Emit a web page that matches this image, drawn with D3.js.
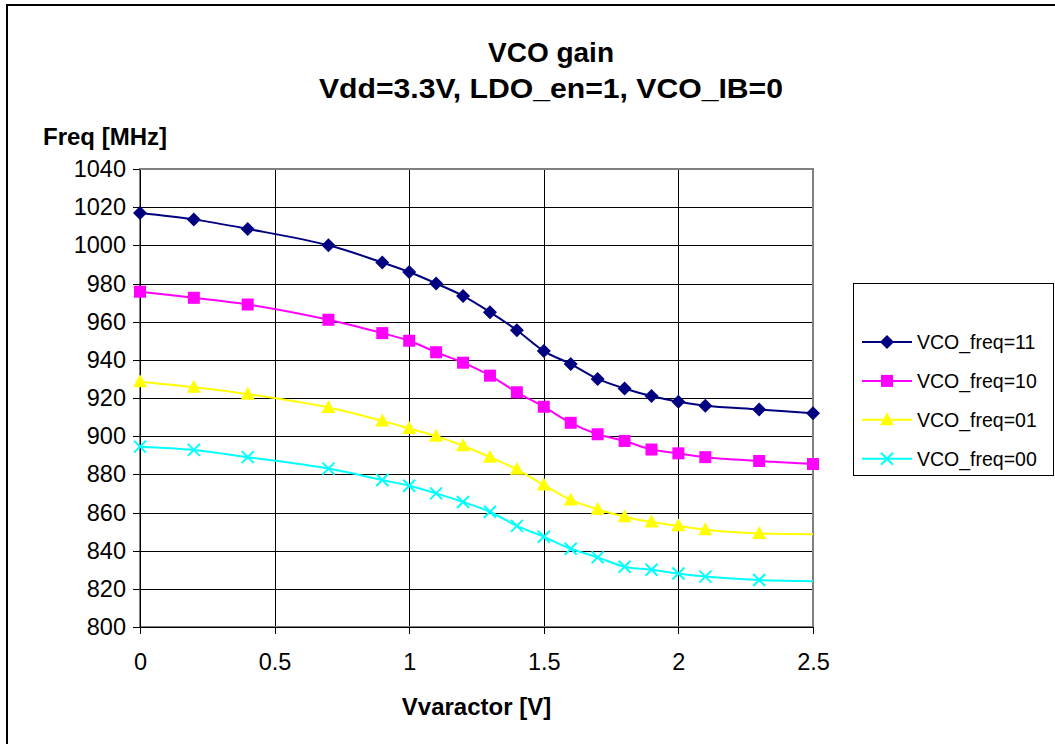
<!DOCTYPE html>
<html lang="en">
<head>
<meta charset="UTF-8">
<title>VCO gain</title>
<script src="https://cdn.jsdelivr.net/npm/d3@7"></script>
<style>
  body { margin:0; background:#fff; }
  svg { font-family: "Liberation Sans", Arial, sans-serif; }
  .grid line { stroke:#000; stroke-width:1; shape-rendering:crispEdges; }
  .axis path, .axis line { stroke:#000; shape-rendering:crispEdges; }
  .axis text { font-size:23.5px; fill:#000; }
</style>
</head>
<body>
<div id="grafica"></div>
<script>
// values
vvar = [0, 0.2, 0.4, 0.7, 0.9, 1.0, 1.1, 1.2, 1.3, 1.4, 1.5, 1.6, 1.7, 1.8, 1.9, 2.0, 2.1, 2.3, 2.5]
f11 = [1017, 1013.6, 1008.6, 1000, 991, 986, 980, 973.5, 965, 955.5, 944.6, 937.8, 930, 925, 921, 918, 916, 914, 912]
f10 = [975.7, 972.5, 969, 961, 954, 950, 944, 938.5, 931.7, 923, 915.4, 907, 901, 897.5, 893, 891, 889, 887, 885.4]
f01 = [928.5, 925.6, 922, 915, 908, 904, 900, 895, 889, 882.6, 874.4, 866.6, 861.7, 857.8, 855, 853, 851, 849, 848.6]
f00 = [894.5, 892.8, 889, 883, 877, 874, 870, 865.5, 860.4, 853, 847.3, 841, 836.5, 831.6, 830, 828, 826.4, 824.6, 824]
names = ['VCO_freq=11', 'VCO_freq=10', 'VCO_freq=01', 'VCO_freq=00']
colors = ['#000080', '#FF00FF', '#FFFF00', '#00FFFF']
shapes = ['diamond', 'square', 'triangle', 'cross']
lastMarker = [2.5, 2.5, 2.3, 2.3]
xTicks = [0, 0.5, 1, 1.5, 2, 2.5]
yTicks = d3.range(800, 1041, 20)

series = [f11, f10, f01, f00].map((vals, i) => ({
  name: names[i], color: colors[i], shape: shapes[i], last: lastMarker[i],
  values: vals.map((v, j) => ({x: vvar[j], y: v}))
}))

ancho_total = 1055
alto_total = 744
margin = {top:169, right:242, bottom:117, left:140}
ancho = ancho_total - margin.left - margin.right
alto = alto_total - margin.top - margin.bottom

svg = d3.select('#grafica')
  .append('svg')
  .attr('width', ancho_total)
  .attr('height', alto_total)

// chart border (runs off the right and bottom edges like the reference)
svg.append('rect')
  .attr('x', 7).attr('y', 5)
  .attr('width', 1100).attr('height', 800)
  .attr('fill', 'none')
  .attr('stroke', '#000')
  .attr('stroke-width', 2)

g = svg.append('g')
  .attr('transform', 'translate(' + margin.left + ',' + margin.top + ')')

x = d3.scaleLinear().domain([0, 2.5]).range([0, ancho])
y = d3.scaleLinear().domain([800, 1040]).range([alto, 0])

// grid
g.append('g').attr('class', 'grid')
  .selectAll('line').data(yTicks).join('line')
  .attr('x1', 0).attr('x2', ancho)
  .attr('y1', d => Math.round(y(d)) + 0.5).attr('y2', d => Math.round(y(d)) + 0.5)
g.append('g').attr('class', 'grid')
  .selectAll('line').data(xTicks).join('line')
  .attr('y1', 0).attr('y2', alto)
  .attr('x1', d => Math.round(x(d)) + 0.5).attr('x2', d => Math.round(x(d)) + 0.5)

g.append('rect')
  .attr('width', ancho).attr('height', alto)
  .attr('fill', 'none')
  .attr('stroke', '#808080')
  .attr('stroke-width', 2)

xAxis = g.append('g')
  .attr('class', 'axis')
  .attr('transform', 'translate(0,' + alto + ')')
  .call(d3.axisBottom(x).tickValues(xTicks).tickFormat(d3.format('')).tickSize(7).tickSizeOuter(0).tickPadding(19))
yAxis = g.append('g')
  .attr('class', 'axis')
  .call(d3.axisLeft(y).tickValues(yTicks).tickFormat(d3.format('d')).tickSize(7).tickSizeOuter(0).tickPadding(7))

// titles
svg.append('text')
  .attr('x', 551).attr('y', 62)
  .attr('text-anchor', 'middle')
  .style('font-size', '28px').style('font-weight', 'bold')
  .text('VCO gain')
svg.append('text')
  .attr('x', 551).attr('y', 98)
  .attr('text-anchor', 'middle')
  .style('font-size', '28px').style('font-weight', 'bold')
  .attr('textLength', 464).attr('lengthAdjust', 'spacingAndGlyphs')
  .text('Vdd=3.3V, LDO_en=1, VCO_IB=0')
svg.append('text')
  .attr('x', 43).attr('y', 145)
  .style('font-size', '24px').style('font-weight', 'bold')
  .text('Freq [MHz]')
svg.append('text')
  .attr('x', margin.left + ancho / 2).attr('y', 715)
  .attr('text-anchor', 'middle')
  .style('font-size', '24px').style('font-weight', 'bold')
  .text('Vvaractor [V]')

linea = d3.line()
  .x(d => x(d.x))
  .y(d => y(d.y))
  .curve(d3.curveCatmullRom.alpha(0.5))

function marker(sel, shape, color) {
  if (shape == 'diamond') {
    sel.append('path').attr('d', 'M0,-7L7,0L0,7L-7,0Z').attr('fill', color)
  } else if (shape == 'square') {
    sel.append('rect').attr('x', -6).attr('y', -6).attr('width', 12).attr('height', 12).attr('fill', color)
  } else if (shape == 'triangle') {
    sel.append('path').attr('d', 'M0,-7.5L7,5.5L-7,5.5Z').attr('fill', color)
  } else {
    sel.append('path').attr('d', 'M-6,-6L6,6M-6,6L6,-6')
      .attr('stroke', color).attr('stroke-width', 2).attr('fill', 'none')
  }
}

series.forEach(s => {
  g.append('path')
    .attr('fill', 'none')
    .attr('stroke', s.color)
    .attr('stroke-width', 2)
    .attr('d', linea(s.values))
  s.values.filter(d => d.x <= s.last).forEach(d => {
    m = g.append('g').attr('transform', 'translate(' + x(d.x) + ',' + y(d.y) + ')')
    marker(m, s.shape, s.color)
  })
})

// legend
leg = svg.append('g')
leg.append('rect')
  .attr('x', 853.5).attr('y', 283.5)
  .attr('width', 200).attr('height', 192)
  .attr('fill', '#fff')
  .attr('stroke', '#000')
  .attr('stroke-width', 1)
series.forEach((s, i) => {
  yy = 342 + i * 38.9
  leg.append('line')
    .attr('x1', 862).attr('x2', 912)
    .attr('y1', yy).attr('y2', yy)
    .attr('stroke', s.color).attr('stroke-width', 2)
  m = leg.append('g').attr('transform', 'translate(887,' + yy + ')')
  marker(m, s.shape, s.color)
  leg.append('text')
    .attr('x', 917).attr('y', yy)
    .attr('dy', '0.35em')
    .style('font-size', '19.5px')
    .text(s.name)
})
</script>
</body>
</html>
